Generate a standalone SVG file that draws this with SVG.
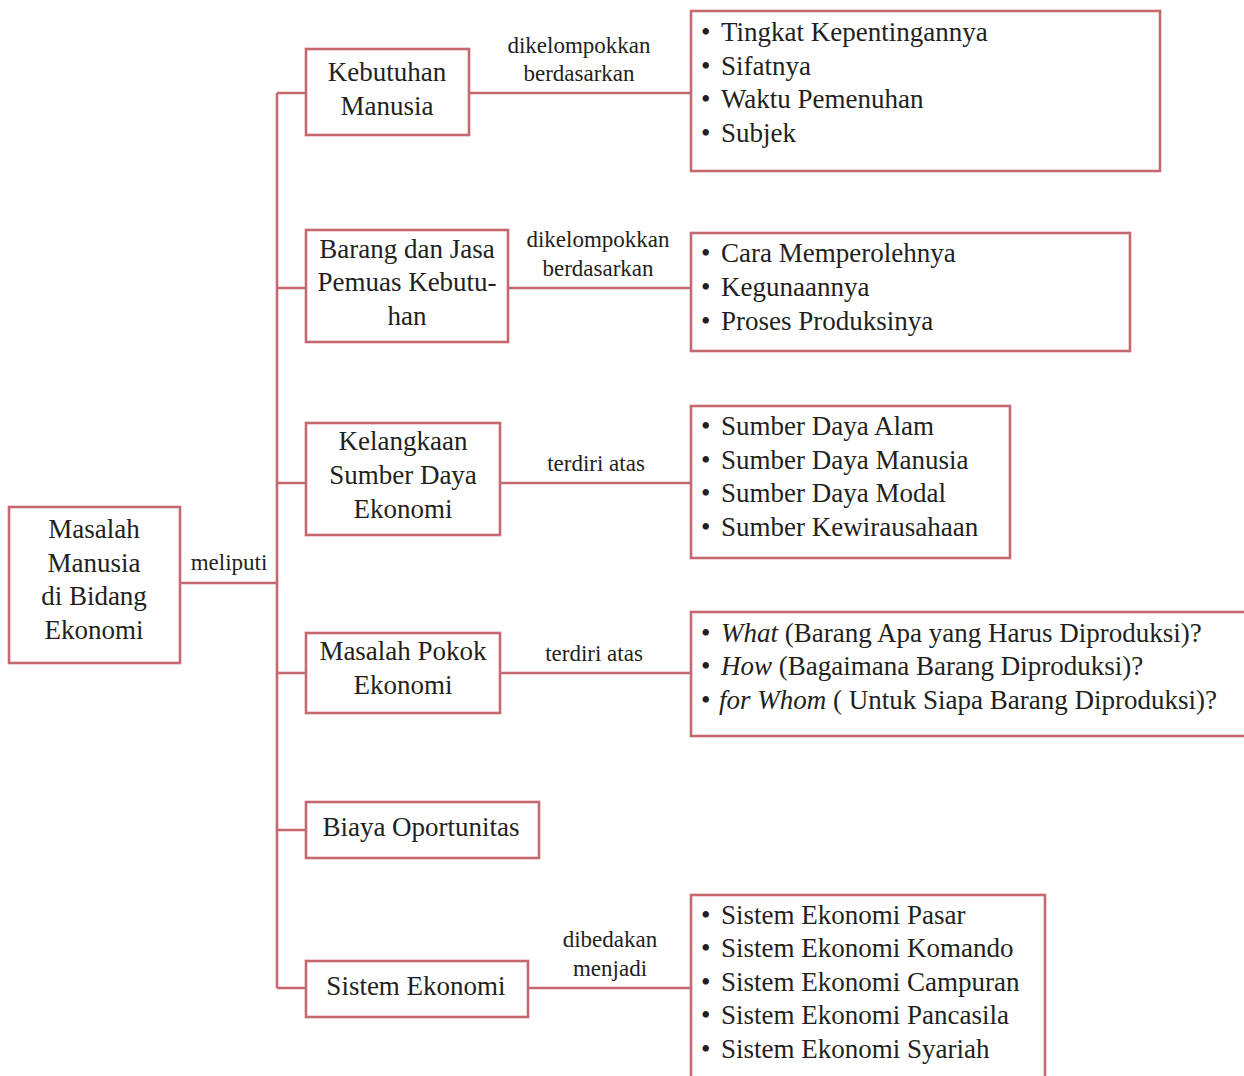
<svg xmlns="http://www.w3.org/2000/svg" width="1244" height="1076" viewBox="0 0 1244 1076">
<style>
.box{fill:#fff;stroke:#c5686f;stroke-width:2.6}
.ln{fill:none;stroke:#c5686f;stroke-width:2.6}
text{font-family:"Liberation Serif","Times New Roman",serif;fill:#231f20}
.t{font-size:27px;text-anchor:middle}
.li{font-size:27px}
.lb{font-size:23px;text-anchor:middle}
</style>
<rect width="1244" height="1076" fill="#fff"/>
<g id="connectors">
<path class="ln" d="M180 583H277M277 93V988M277 93H306M277 288H306M277 483H306M277 673H306M277 830H306M277 988H306"/>
<path class="ln" d="M469 93H691M508 288H691M500 483H691M500 673H691M528 988H691"/>
<text class="lb" x="229" y="570">meliputi</text>
<text class="lb" x="579" y="53">dikelompokkan</text>
<text class="lb" x="579" y="81">berdasarkan</text>
<text class="lb" x="598" y="247">dikelompokkan</text>
<text class="lb" x="598" y="276">berdasarkan</text>
<text class="lb" x="596" y="471">terdiri atas</text>
<text class="lb" x="594" y="661">terdiri atas</text>
<text class="lb" x="610" y="947">dibedakan</text>
<text class="lb" x="610" y="976">menjadi</text>
</g>
<g id="root">
<rect class="box" x="9" y="507" width="171" height="156"/>
<text class="t" x="94" y="538">Masalah</text>
<text class="t" x="94" y="572">Manusia</text>
<text class="t" x="94" y="605">di Bidang</text>
<text class="t" x="94" y="639">Ekonomi</text>
</g>
<g id="kebutuhan">
<rect class="box" x="306" y="49" width="163" height="86"/>
<text class="t" x="387" y="81">Kebutuhan</text>
<text class="t" x="387" y="115">Manusia</text>
</g>
<g id="kebutuhan-list">
<rect class="box" x="691" y="11" width="469" height="160"/>
<text class="li" x="701" y="41">•</text><text class="li" x="721" y="41">Tingkat Kepentingannya</text>
<text class="li" x="701" y="75">•</text><text class="li" x="721" y="75">Sifatnya</text>
<text class="li" x="701" y="108">•</text><text class="li" x="721" y="108">Waktu Pemenuhan</text>
<text class="li" x="701" y="142">•</text><text class="li" x="721" y="142">Subjek</text>
</g>
<g id="barang">
<rect class="box" x="306" y="230" width="202" height="112"/>
<text class="t" x="407" y="258">Barang dan Jasa</text>
<text class="t" x="407" y="291">Pemuas Kebutu-</text>
<text class="t" x="407" y="325">han</text>
</g>
<g id="barang-list">
<rect class="box" x="691" y="233" width="439" height="118"/>
<text class="li" x="701" y="262">•</text><text class="li" x="721" y="262">Cara Memperolehnya</text>
<text class="li" x="701" y="296">•</text><text class="li" x="721" y="296">Kegunaannya</text>
<text class="li" x="701" y="330">•</text><text class="li" x="721" y="330">Proses Produksinya</text>
</g>
<g id="kelangkaan">
<rect class="box" x="306" y="423" width="194" height="112"/>
<text class="t" x="403" y="450">Kelangkaan</text>
<text class="t" x="403" y="484">Sumber Daya</text>
<text class="t" x="403" y="518">Ekonomi</text>
</g>
<g id="kelangkaan-list">
<rect class="box" x="691" y="406" width="319" height="152"/>
<text class="li" x="701" y="435">•</text><text class="li" x="721" y="435">Sumber Daya Alam</text>
<text class="li" x="701" y="469">•</text><text class="li" x="721" y="469">Sumber Daya Manusia</text>
<text class="li" x="701" y="502">•</text><text class="li" x="721" y="502">Sumber Daya Modal</text>
<text class="li" x="701" y="536">•</text><text class="li" x="721" y="536">Sumber Kewirausahaan</text>
</g>
<g id="pokok">
<rect class="box" x="306" y="633" width="194" height="80"/>
<text class="t" x="403" y="660">Masalah Pokok</text>
<text class="t" x="403" y="694">Ekonomi</text>
</g>
<g id="pokok-list">
<rect class="box" x="691" y="612" width="560" height="124"/>
<text class="li" x="701" y="642">•</text><text class="li" x="721" y="642"><tspan font-style="italic">What</tspan> (Barang Apa yang Harus Diproduksi)?</text>
<text class="li" x="701" y="675">•</text><text class="li" x="721" y="675"><tspan font-style="italic">How</tspan> (Bagaimana Barang Diproduksi)?</text>
<text class="li" x="701" y="709">•</text><text class="li" x="719" y="709"><tspan font-style="italic">for Whom</tspan> ( Untuk Siapa Barang Diproduksi)?</text>
</g>
<g id="biaya">
<rect class="box" x="306" y="802" width="233" height="56"/>
<text class="t" x="421" y="836">Biaya Oportunitas</text>
</g>
<g id="sistem">
<rect class="box" x="306" y="961" width="222" height="56"/>
<text class="t" x="416" y="995">Sistem Ekonomi</text>
</g>
<g id="sistem-list">
<rect class="box" x="691" y="895" width="354" height="200"/>
<text class="li" x="701" y="924">•</text><text class="li" x="721" y="924">Sistem Ekonomi Pasar</text>
<text class="li" x="701" y="957">•</text><text class="li" x="721" y="957">Sistem Ekonomi Komando</text>
<text class="li" x="701" y="991">•</text><text class="li" x="721" y="991">Sistem Ekonomi Campuran</text>
<text class="li" x="701" y="1024">•</text><text class="li" x="721" y="1024">Sistem Ekonomi Pancasila</text>
<text class="li" x="701" y="1058">•</text><text class="li" x="721" y="1058">Sistem Ekonomi Syariah</text>
</g>
</svg>
